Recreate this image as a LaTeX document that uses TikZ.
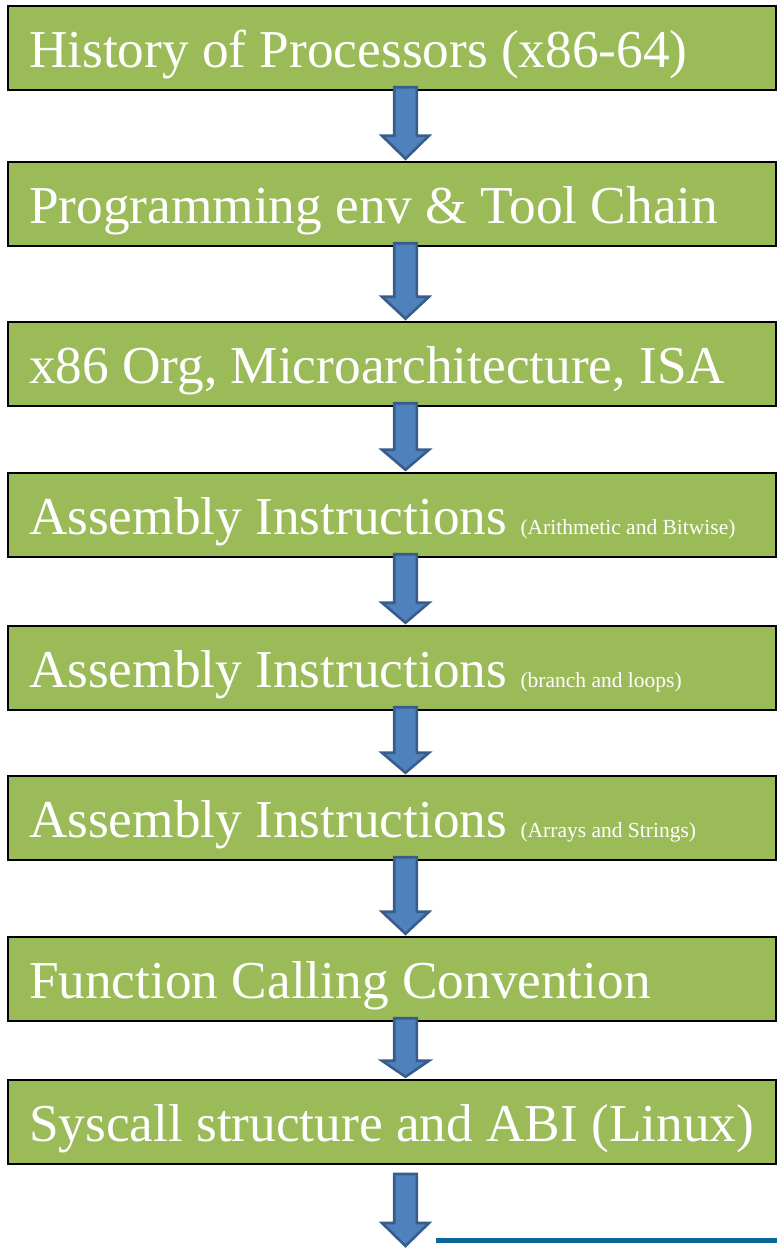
\documentclass[tikz,border=0pt]{standalone}
\usepackage{fontspec}
\setmainfont{Liberation Serif}
\usetikzlibrary{calc}

\definecolor{boxgreen}{HTML}{9BBB59}
\definecolor{arrowfill}{HTML}{4F81BD}
\definecolor{arrowline}{HTML}{385D8A}
\definecolor{rulecol}{RGB}{12,102,156}

% smaller type for the bracketed topic notes
\newcommand\notefont{\fontsize{21.5}{24}\selectfont}
% one left-aligned line filling the box interior
\newcommand\boxline[1]{\makebox[726pt][l]{#1}}

\tikzset{
  stagebox/.style={draw=black, fill=boxgreen, line width=2.5pt,
    minimum width=768pt, minimum height=84pt,
    inner xsep=21pt, inner ysep=0pt,
    text height=61pt, text depth=23pt,
    text=white, font=\fontsize{53.3}{60}\selectfont},
  blockarrow/.style={draw=arrowline, fill=arrowfill, line width=2.6pt, line join=miter}
}

% downward block arrow: #1 start, #2 tip, #3 head length
\newcommand\flowarrow[3]{%
  \draw[blockarrow] let \p1=(#1), \p2=(#2) in
    (\x1-11.3pt,\y1) -- (\x1+11.3pt,\y1) -- (\x1+11.3pt,\y2+#3) --
    (\x1+23.5pt,\y2+#3) -- (\x1,\y2+2pt) -- (\x1-23.5pt,\y2+#3) --
    (\x1-11.3pt,\y2+#3) -- cycle;
}

\begin{document}
\begin{tikzpicture}[x=1pt, y=-1pt]
  \clip (0,0) rectangle (777,1248);

  \node[stagebox] (b1) at (392,48)  {\boxline{History of Processors (x86-64)}};
  \node[stagebox] (b2) at (392,204) {\boxline{Programming env \& Tool Chain}};
  \node[stagebox] (b3) at (392,364) {\boxline{x86 Org, Microarchitecture, ISA}};
  \node[stagebox] (b4) at (392,515) {\boxline{Assembly Instructions {\notefont(Arithmetic and Bitwise)}}};
  \node[stagebox] (b5) at (392,668) {\boxline{Assembly Instructions {\notefont(branch and loops)}}};
  \node[stagebox] (b6) at (392,818) {\boxline{Assembly Instructions {\notefont(Arrays and Strings)}}};
  \node[stagebox] (b7) at (392,979) {\boxline{Function Calling Convention}};
  \node[stagebox] (b8) at (392,1122) {\boxline{Syscall structure and ABI (Linux)}};

  \coordinate (a8s) at (405.5,1174);
  \coordinate (a8e) at (405.5,1248);
  \coordinate (r1) at (436,1240.5);
  \coordinate (r2) at (777,1240.5);

  \flowarrow{$(b1.south)+(13.5,-4)$}{$(b2.north)+(13.5,0)$}{25pt}
  \flowarrow{$(b2.south)+(13.5,-4)$}{$(b3.north)+(13.5,0)$}{24pt}
  \flowarrow{$(b3.south)+(13.5,-4)$}{$(b4.north)+(13.5,0)$}{22pt}
  \flowarrow{$(b4.south)+(13.5,-4)$}{$(b5.north)+(13.5,0)$}{22pt}
  \flowarrow{$(b5.south)+(13.5,-4)$}{$(b6.north)+(13.5,0)$}{22pt}
  \flowarrow{$(b6.south)+(13.5,-4)$}{$(b7.north)+(13.5,0)$}{24pt}
  \flowarrow{$(b7.south)+(13.5,-4)$}{$(b8.north)+(13.5,0)$}{18pt}
  \flowarrow{a8s}{a8e}{25pt}

  \draw[rulecol, line width=5pt] (r1) -- (r2);
\end{tikzpicture}
\end{document}
